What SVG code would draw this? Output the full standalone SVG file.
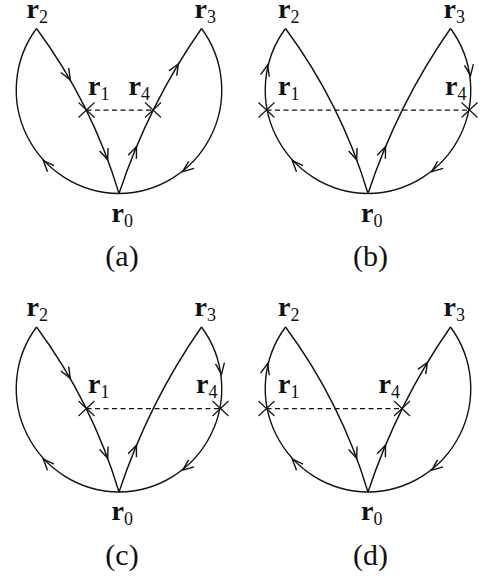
<svg xmlns="http://www.w3.org/2000/svg" width="485" height="583" viewBox="0 0 485 583">
<style>
.ln{fill:none;stroke:#111;stroke-width:1.4}
.ds{fill:none;stroke:#111;stroke-width:1.25;stroke-dasharray:5,3.5}
.ah{fill:none;stroke:#111;stroke-width:1.4;stroke-linejoin:miter}
.cx{fill:none;stroke:#111;stroke-width:1.15}
.lb{font-family:"Liberation Serif","Times New Roman",serif;font-size:28px;fill:#111}
.lb .b{font-weight:bold}
.lb .s{font-size:18px}
.cap{font-family:"Liberation Serif","Times New Roman",serif;font-size:30px;fill:#111;text-anchor:middle}
</style>
<defs>
<path id="ah" class="ah" d="M-11,-4.5 L0,0 L-11,4.5"/>
<path id="cross" class="cx" d="M-8,-7.5 L8,7.5 M-8,7.5 L8,-7.5"/>
<path id="arcL" class="ln" d="M36.5,28.5 A103.5,103.5 0 0 0 119,193.5"/>
<path id="arcR" class="ln" d="M201.5,28.5 A103.5,103.5 0 0 1 119,193.5"/>
<path id="lineL" class="ln" d="M36.5,28.5 Q92,103.5 119,193.5"/>
<path id="lineR" class="ln" d="M119,193.5 Q149,103.5 201.5,28.5"/>
</defs>

<!-- Panel (a) -->
<g id="panel-a">
<g id="a-connectors">
<use href="#arcL"/><use href="#arcR"/><use href="#lineL"/><use href="#lineR"/>
<path class="ds" d="M86.5,110 H153"/>
<use href="#ah" transform="translate(70.3,79.8) rotate(60)"/>
<use href="#ah" transform="translate(107.7,159.8) rotate(69.6)"/>
<use href="#ah" transform="translate(136.5,146.8) rotate(-67.3)"/>
<use href="#ah" transform="translate(178.5,63.8) rotate(-58.9)"/>
<use href="#ah" transform="translate(43.3,160.6) rotate(227)"/>
<use href="#ah" transform="translate(182.7,171.6) rotate(142)"/>
</g>
<g id="a-r0"><text class="lb" x="111.5" y="221.5"><tspan class="b">r</tspan><tspan class="s" dy="5">0</tspan></text></g>
<g id="a-r1"><use href="#cross" x="86.5" y="110"/><text class="lb" x="88" y="94.5"><tspan class="b">r</tspan><tspan class="s" dy="5">1</tspan></text></g>
<g id="a-r2"><text class="lb" x="26.5" y="17.5"><tspan class="b">r</tspan><tspan class="s" dy="5">2</tspan></text></g>
<g id="a-r3"><text class="lb" x="194.5" y="17.5"><tspan class="b">r</tspan><tspan class="s" dy="5">3</tspan></text></g>
<g id="a-r4"><use href="#cross" x="153" y="110"/><text class="lb" x="128.5" y="94.5"><tspan class="b">r</tspan><tspan class="s" dy="5">4</tspan></text></g>
<text class="cap" x="122" y="266">(a)</text>
</g>

<!-- Panel (b) -->
<g id="panel-b" transform="translate(249,0)">
<g id="b-connectors">
<use href="#arcL"/><use href="#arcR"/><use href="#lineL"/><use href="#lineR"/>
<path class="ds" d="M17.5,110 H220.5"/>
<use href="#ah" transform="translate(107.7,159.8) rotate(69.6)"/>
<use href="#ah" transform="translate(136.5,146.8) rotate(-67.3)"/>
<use href="#ah" transform="translate(18.6,65) rotate(284)"/>
<use href="#ah" transform="translate(43.3,160.6) rotate(227)"/>
<use href="#ah" transform="translate(221.5,75.6) rotate(82)"/>
<use href="#ah" transform="translate(182.7,171.6) rotate(142)"/>
</g>
<g id="b-r0"><text class="lb" x="112" y="221.5"><tspan class="b">r</tspan><tspan class="s" dy="5">0</tspan></text></g>
<g id="b-r1"><use href="#cross" x="17.5" y="110"/><text class="lb" x="29" y="94.5"><tspan class="b">r</tspan><tspan class="s" dy="5">1</tspan></text></g>
<g id="b-r2"><text class="lb" x="29" y="17.5"><tspan class="b">r</tspan><tspan class="s" dy="5">2</tspan></text></g>
<g id="b-r3"><text class="lb" x="194.5" y="17.5"><tspan class="b">r</tspan><tspan class="s" dy="5">3</tspan></text></g>
<g id="b-r4"><use href="#cross" x="220.5" y="110"/><text class="lb" x="196" y="94.5"><tspan class="b">r</tspan><tspan class="s" dy="5">4</tspan></text></g>
<text class="cap" x="121.5" y="266">(b)</text>
</g>

<!-- Panel (c) -->
<g id="panel-c" transform="translate(0,298.5)">
<g id="c-connectors">
<use href="#arcL"/><use href="#arcR"/><use href="#lineL"/><use href="#lineR"/>
<path class="ds" d="M86.5,110 H220.5"/>
<use href="#ah" transform="translate(70.3,79.8) rotate(60)"/>
<use href="#ah" transform="translate(107.7,159.8) rotate(69.6)"/>
<use href="#ah" transform="translate(136.5,146.8) rotate(-67.3)"/>
<use href="#ah" transform="translate(43.3,160.6) rotate(227)"/>
<use href="#ah" transform="translate(221.5,75.6) rotate(82)"/>
<use href="#ah" transform="translate(182.7,171.6) rotate(142)"/>
</g>
<g id="c-r0"><text class="lb" x="111.5" y="221.5"><tspan class="b">r</tspan><tspan class="s" dy="5">0</tspan></text></g>
<g id="c-r1"><use href="#cross" x="86.5" y="110"/><text class="lb" x="88" y="94.5"><tspan class="b">r</tspan><tspan class="s" dy="5">1</tspan></text></g>
<g id="c-r2"><text class="lb" x="26.5" y="17.5"><tspan class="b">r</tspan><tspan class="s" dy="5">2</tspan></text></g>
<g id="c-r3"><text class="lb" x="194.5" y="17.5"><tspan class="b">r</tspan><tspan class="s" dy="5">3</tspan></text></g>
<g id="c-r4"><use href="#cross" x="220.5" y="110"/><text class="lb" x="196" y="94.5"><tspan class="b">r</tspan><tspan class="s" dy="5">4</tspan></text></g>
<text class="cap" x="122" y="266">(c)</text>
</g>

<!-- Panel (d) -->
<g id="panel-d" transform="translate(249,298.5)">
<g id="d-connectors">
<use href="#arcL"/><use href="#arcR"/><use href="#lineL"/><use href="#lineR"/>
<path class="ds" d="M17.5,110 H153"/>
<use href="#ah" transform="translate(107.7,159.8) rotate(69.6)"/>
<use href="#ah" transform="translate(136.5,146.8) rotate(-67.3)"/>
<use href="#ah" transform="translate(178.5,63.8) rotate(-58.9)"/>
<use href="#ah" transform="translate(18.6,65) rotate(284)"/>
<use href="#ah" transform="translate(43.3,160.6) rotate(227)"/>
<use href="#ah" transform="translate(182.7,171.6) rotate(142)"/>
</g>
<g id="d-r0"><text class="lb" x="112" y="221.5"><tspan class="b">r</tspan><tspan class="s" dy="5">0</tspan></text></g>
<g id="d-r1"><use href="#cross" x="17.5" y="110"/><text class="lb" x="29" y="94.5"><tspan class="b">r</tspan><tspan class="s" dy="5">1</tspan></text></g>
<g id="d-r2"><text class="lb" x="29" y="17.5"><tspan class="b">r</tspan><tspan class="s" dy="5">2</tspan></text></g>
<g id="d-r3"><text class="lb" x="194.5" y="17.5"><tspan class="b">r</tspan><tspan class="s" dy="5">3</tspan></text></g>
<g id="d-r4"><use href="#cross" x="153" y="110"/><text class="lb" x="129.5" y="94.5"><tspan class="b">r</tspan><tspan class="s" dy="5">4</tspan></text></g>
<text class="cap" x="121.5" y="266">(d)</text>
</g>
</svg>
